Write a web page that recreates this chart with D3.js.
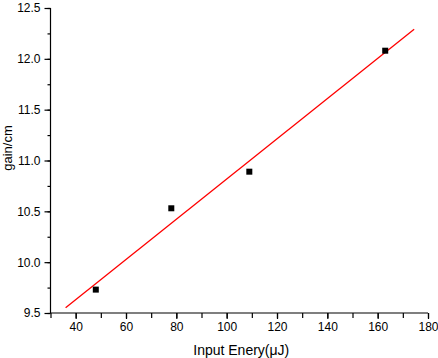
<!DOCTYPE html>
<html>
<head>
<meta charset="utf-8">
<script src="https://cdn.jsdelivr.net/npm/d3@7"></script>
<style>
  body { margin: 0; background: #fff; }
  svg { display: block; font-family: "Liberation Sans", Arial, sans-serif; }
</style>
</head>
<body>
<svg id="chart" width="438" height="358"></svg>
<script>
// measured points
var energy = [48, 78, 109, 163];
var gain = [9.73, 10.53, 10.89, 12.08];
// extent of the fitted line
var fitRange = [36, 174.5];
var xTicks = [40, 60, 80, 100, 120, 140, 160, 180];
var yTicks = [9.5, 10.0, 10.5, 11.0, 11.5, 12.0, 12.5];

var svg = d3.select('#chart');
var plotL = 50.5, plotR = 428, plotT = 8, plotB = 313;

var x = d3.scaleLinear().domain([30, 180]).range([plotL, plotR]);
var y = d3.scaleLinear().domain([9.5, 12.5]).range([plotB, plotT]);

// least squares fit
var mx = d3.mean(energy), my = d3.mean(gain);
var sxy = d3.sum(energy, function (d, i) { return (d - mx) * (gain[i] - my); });
var sxx = d3.sum(energy, function (d) { return (d - mx) * (d - mx); });
var slope = sxy / sxx;
var icpt = my - slope * mx;

// axes
var xAxis = svg.append('g').attr('transform', 'translate(0,' + plotB + ')');
xAxis.append('g').call(d3.axisBottom(x).tickValues(d3.range(30, 181, 10)).tickSize(5).tickFormat(''));
xAxis.append('g').call(d3.axisBottom(x).tickValues(xTicks).tickSize(6).tickPadding(3).tickFormat(d3.format('d')));
xAxis.selectAll('text').attr('font-size', 12).attr('fill', '#000').style('font-family', '"Liberation Sans", Arial, sans-serif');
xAxis.selectAll('line').attr('stroke', '#000').attr('stroke-width', 1.2);

var yAxis = svg.append('g').attr('transform', 'translate(' + plotL + ',0)');
yAxis.append('g').call(d3.axisLeft(y).tickValues(d3.range(9.5, 12.51, 0.25)).tickSize(3).tickFormat(''));
yAxis.append('g').call(d3.axisLeft(y).tickValues(yTicks).tickSize(6).tickPadding(4).tickFormat(d3.format('.1f')));
yAxis.selectAll('text').attr('font-size', 12).attr('fill', '#000').style('font-family', '"Liberation Sans", Arial, sans-serif');
yAxis.selectAll('line').attr('stroke', '#000').attr('stroke-width', 1.2);
svg.selectAll('.domain').remove();
svg.append('line').attr('x1', plotL).attr('x2', plotL).attr('y1', plotT).attr('y2', plotB)
  .attr('stroke', '#000').attr('stroke-width', 1.2);
svg.append('line').attr('x1', plotL).attr('x2', plotR).attr('y1', plotB).attr('y2', plotB)
  .attr('stroke', '#000').attr('stroke-width', 1.2);

// fit line
svg.append('line')
  .attr('x1', x(fitRange[0])).attr('y1', y(icpt + slope * fitRange[0]))
  .attr('x2', x(fitRange[1])).attr('y2', y(icpt + slope * fitRange[1]))
  .attr('stroke', '#ff0000').attr('stroke-width', 1.3);

// points
svg.selectAll('.pt').data(energy).enter().append('rect')
  .attr('class', 'pt')
  .attr('x', function (d) { return x(d) - 3; })
  .attr('y', function (d, i) { return y(gain[i]) - 3; })
  .attr('width', 6).attr('height', 6)
  .attr('fill', '#000');

// titles
svg.append('text').attr('x', (plotL + plotR) / 2 + 2).attr('y', 355)
  .attr('text-anchor', 'middle').attr('font-size', 14).text('Input Enery(\u03bcJ)');
svg.append('text').attr('transform', 'translate(12,148) rotate(-90)')
  .attr('text-anchor', 'middle').attr('font-size', 13).text('gain/cm');
</script>
</body>
</html>
